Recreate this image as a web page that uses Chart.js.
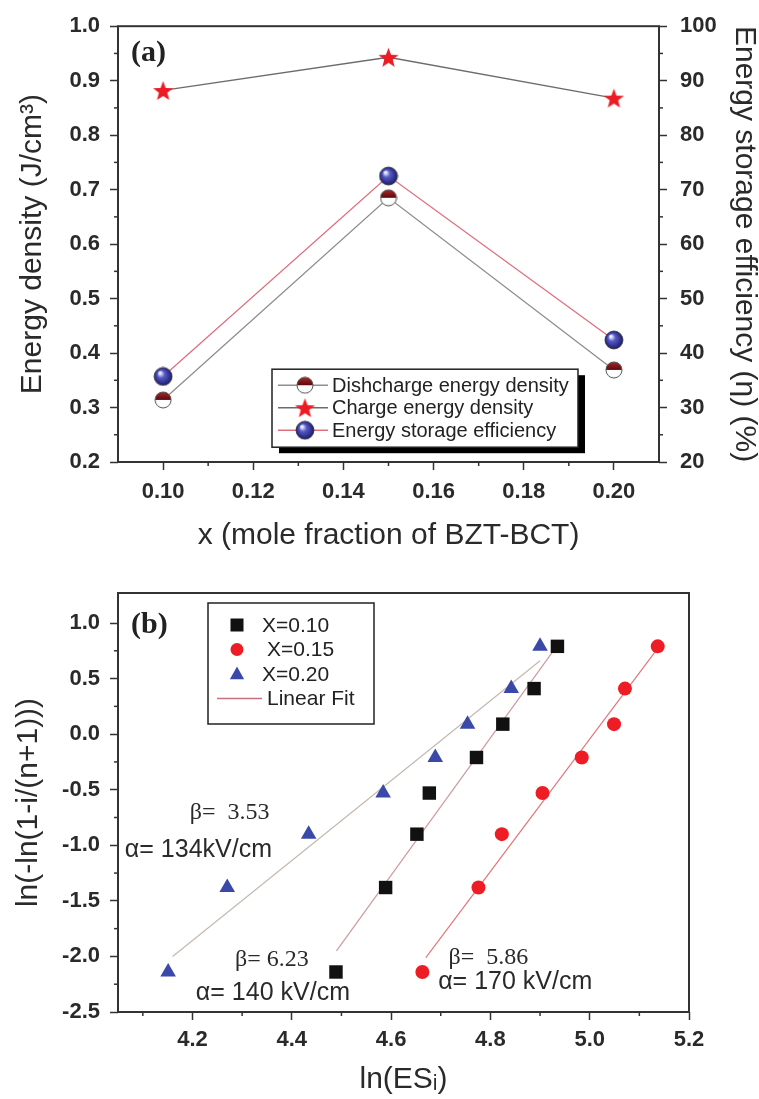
<!DOCTYPE html>
<html>
<head>
<meta charset="utf-8">
<script src="https://cdn.jsdelivr.net/npm/chart.js@4.4.1/dist/chart.umd.min.js"></script>
<style>
  html, body { margin: 0; padding: 0; background: #fff; }
  #wrap { position: relative; width: 759px; height: 1099px; }
  canvas { position: absolute; left: 0; }
  #chartA { top: 0; }
  #chartB { top: 560px; }
</style>
</head>
<body>
<div id="wrap">
  <canvas id="chartA" width="759" height="560"></canvas>
  <canvas id="chartB" width="759" height="539"></canvas>
</div>
<script>
// ---- (a) energy storage vs. composition ----
const moleFraction = [0.10, 0.15, 0.20];
const dischargeDensity = [0.314, 0.685, 0.369];
const chargeDensity = [0.882, 0.943, 0.868];
const storageEfficiency = [35.7, 72.5, 42.4];
const seriesLabelsA = ['Dishcharge energy density', 'Charge energy density', 'Energy storage efficiency'];
const xTicksA = [0.10, 0.12, 0.14, 0.16, 0.18, 0.20];
const xMinorA = [0.11, 0.13, 0.15, 0.17, 0.19];
const yTicksA = [0.2, 0.3, 0.4, 0.5, 0.6, 0.7, 0.8, 0.9, 1.0];
const yMinorA = [0.25, 0.35, 0.45, 0.55, 0.65, 0.75, 0.85, 0.95];
const effTicks = [20, 30, 40, 50, 60, 70, 80, 90, 100];
const effMinor = [25, 35, 45, 55, 65, 75, 85, 95];

// ---- (b) Weibull plot ----
const weibullY = [-2.14, -1.38, -0.90, -0.53, -0.21, 0.09, 0.41, 0.79];
const lnES010 = [4.489, 4.589, 4.652, 4.677, 4.772, 4.825, 4.888, 4.935];
const lnES015 = [4.663, 4.776, 4.823, 4.905, 4.984, 5.049, 5.071, 5.137];
const lnES020 = [4.151, 4.270, 4.434, 4.584, 4.689, 4.754, 4.842, 4.900];
const seriesLabelsB = ['X=0.10', 'X=0.15', 'X=0.20'];
const fit010X = [4.49, 4.93], fit010Y = [-1.95, 0.77];
const fit015X = [4.67, 5.14], fit015Y = [-2.01, 0.79];
const fit020X = [4.16, 4.90], fit020Y = [-2.00, 0.66];
const xTicksB = [4.2, 4.4, 4.6, 4.8, 5.0, 5.2];
const xMinorB = [4.1, 4.3, 4.5, 4.7, 4.9, 5.1];
const yTicksB = [-2.5, -2.0, -1.5, -1.0, -0.5, 0.0, 0.5, 1.0];
const yMinorB = [-2.25, -1.75, -1.25, -0.75, -0.25, 0.25, 0.75];
const notesB = [
  { text: 'β=  3.53', x: 4.275, y: -0.71, serif: true },
  { text: 'α= 134kV/cm', x: 4.212, y: -1.04 },
  { text: 'β= 6.23', x: 4.36, y: -2.03, serif: true },
  { text: 'α= 140 kV/cm', x: 4.362, y: -2.33 },
  { text: 'β=  5.86', x: 4.796, y: -2.01, serif: true },
  { text: 'α= 170 kV/cm', x: 4.85, y: -2.23 }
];

const SANS = "'Liberation Sans', Arial, sans-serif";
const SERIF = "'Liberation Serif', 'Times New Roman', serif";
const INK = '#2a2a2a';
Chart.defaults.font.family = SANS;
Chart.defaults.color = INK;

const pts = (xs, ys) => xs.map((x, i) => ({ x: x, y: ys[i] }));

// marker images
function makeStar(r, color) {
  const c = document.createElement('canvas');
  const s = Math.ceil(r * 2 + 2);
  c.width = c.height = s;
  const g = c.getContext('2d');
  g.beginPath();
  for (let i = 0; i < 10; i++) {
    const rad = i % 2 === 0 ? r : r * 0.42;
    const a = -Math.PI / 2 + i * Math.PI / 5;
    const px = s / 2 + rad * Math.cos(a), py = s / 2 + 1 + rad * Math.sin(a);
    if (i === 0) g.moveTo(px, py); else g.lineTo(px, py);
  }
  g.closePath();
  g.fillStyle = color;
  g.fill();
  return c;
}
function makeSphere(r) {
  const c = document.createElement('canvas');
  const s = Math.ceil(r * 2 + 2);
  c.width = c.height = s;
  const g = c.getContext('2d');
  const m = s / 2;
  const grd = g.createRadialGradient(m - r * 0.35, m - r * 0.4, r * 0.1, m, m, r);
  grd.addColorStop(0, '#eef0ff');
  grd.addColorStop(0.35, '#5659c8');
  grd.addColorStop(1, '#1b1c6a');
  g.beginPath(); g.arc(m, m, r, 0, Math.PI * 2);
  g.fillStyle = grd; g.fill();
  g.lineWidth = 0.8; g.strokeStyle = '#333'; g.stroke();
  return c;
}
function makeHalf(r) {
  const c = document.createElement('canvas');
  const s = Math.ceil(r * 2 + 2);
  c.width = c.height = s;
  const g = c.getContext('2d');
  const m = s / 2;
  g.beginPath(); g.arc(m, m, r, 0, Math.PI * 2);
  g.fillStyle = '#fff'; g.fill();
  const grd = g.createLinearGradient(0, m - r, 0, m);
  grd.addColorStop(0, '#a8282a');
  grd.addColorStop(1, '#5a0a0e');
  g.beginPath(); g.arc(m, m, r, Math.PI, Math.PI * 2); g.closePath();
  g.fillStyle = grd; g.fill();
  g.beginPath(); g.arc(m, m, r, 0, Math.PI * 2);
  g.lineWidth = 1; g.strokeStyle = '#555'; g.stroke();
  return c;
}
const starImg = makeStar(10.5, '#ec1c24');
const sphereImg = makeSphere(9);
const halfImg = makeHalf(8);

// plugins
const frame = {
  id: 'frame',
  beforeDatasetsDraw(chart) {
    const { ctx, chartArea: a } = chart;
    ctx.save();
    ctx.strokeStyle = '#333';
    ctx.lineWidth = 2;
    ctx.strokeRect(a.left, a.top, a.right - a.left, a.bottom - a.top);
    ctx.restore();
  }
};
const minorTicks = {
  id: 'minorTicks',
  afterDraw(chart, args, opts) {
    const ctx = chart.ctx;
    ctx.save();
    ctx.strokeStyle = '#333';
    ctx.lineWidth = 1.5;
    (opts.list || []).forEach(m => {
      const s = chart.scales[m.axis];
      m.values.forEach(v => {
        const p = s.getPixelForValue(v);
        ctx.beginPath();
        if (s.isHorizontal()) { ctx.moveTo(p, s.top); ctx.lineTo(p, s.top + 4); }
        else if (s.position === 'left') { ctx.moveTo(s.right, p); ctx.lineTo(s.right - 4, p); }
        else { ctx.moveTo(s.left, p); ctx.lineTo(s.left + 4, p); }
        ctx.stroke();
      });
    });
    ctx.restore();
  }
};
const panelTag = {
  id: 'panelTag',
  afterDraw(chart, args, opts) {
    const { ctx, chartArea: a } = chart;
    ctx.save();
    ctx.font = 'bold 30px ' + SERIF;
    ctx.fillStyle = '#222';
    ctx.textBaseline = 'middle';
    ctx.fillText(opts.text, a.left + opts.dx, a.top + opts.dy);
    ctx.restore();
  }
};

function tickAxis(extra) {
  return Object.assign({
    type: 'linear',
    border: { display: false },
    grid: { drawOnChartArea: false, drawTicks: true, tickLength: 8, tickColor: '#333', tickWidth: 1.5 }
  }, extra);
}
const tickFont = { size: 22, weight: 'bold', family: SANS };
const titleFont = { size: 30, family: SANS, lineHeight: 1 };

// ---------- chart (a) ----------
const legendA = {
  id: 'legendA',
  afterDraw(chart) {
    const { ctx, chartArea: a } = chart;
    const x0 = a.left + 154, y0 = a.top + 343, w = 306, h = 78;
    ctx.save();
    ctx.fillStyle = '#000';
    ctx.fillRect(x0 + 7, y0 + 6, w, h);
    ctx.fillStyle = '#fff';
    ctx.fillRect(x0, y0, w, h);
    ctx.strokeStyle = '#222';
    ctx.lineWidth = 1.5;
    ctx.strokeRect(x0, y0, w, h);
    ctx.font = '20px ' + SANS;
    ctx.textBaseline = 'middle';
    chart.data.datasets.forEach((ds, i) => {
      const cy = y0 + 16 + i * 22.5;
      ctx.strokeStyle = ds.borderColor;
      ctx.lineWidth = 1.5;
      ctx.beginPath(); ctx.moveTo(x0 + 6, cy); ctx.lineTo(x0 + 56, cy); ctx.stroke();
      const img = ds.pointStyle;
      ctx.drawImage(img, x0 + 33 - img.width / 2, cy - img.height / 2);
      ctx.fillStyle = '#222';
      ctx.fillText(ds.label, x0 + 60, cy + 1);
    });
    ctx.restore();
  }
};

new Chart(document.getElementById('chartA'), {
  type: 'scatter',
  data: {
    datasets: [
      { label: seriesLabelsA[0], data: pts(moleFraction, dischargeDensity), yAxisID: 'y',
        showLine: true, borderColor: '#8e8e8e', borderWidth: 1.3, pointStyle: halfImg },
      { label: seriesLabelsA[1], data: pts(moleFraction, chargeDensity), yAxisID: 'y',
        showLine: true, borderColor: '#6c6c6c', borderWidth: 1.3, pointStyle: starImg },
      { label: seriesLabelsA[2], data: pts(moleFraction, storageEfficiency), yAxisID: 'y2',
        showLine: true, borderColor: '#e07080', borderWidth: 1.3, pointStyle: sphereImg }
    ]
  },
  options: {
    responsive: false,
    animation: false,
    layout: { padding: { top: 24, left: 0, right: 0, bottom: 0 } },
    plugins: {
      legend: { display: false },
      tooltip: { enabled: false },
      minorTicks: { list: [
        { axis: 'x', values: xMinorA },
        { axis: 'y', values: yMinorA },
        { axis: 'y2', values: effMinor }
      ] },
      panelTag: { text: '(a)', dx: 13, dy: 27 }
    },
    scales: {
      x: tickAxis({
        position: 'bottom', min: 0.09, max: 0.21,
        afterBuildTicks: s => { s.ticks = xTicksA.map(v => ({ value: v })); },
        afterFit: s => { s.height = 98; },
        ticks: { font: tickFont, color: INK, padding: 9, maxRotation: 0, autoSkip: false,
                 callback: v => v.toFixed(2) },
        title: { display: true, text: 'x (mole fraction of BZT-BCT)', font: titleFont, color: INK,
                 padding: { top: 0, bottom: 9 } }
      }),
      y: tickAxis({
        position: 'left', min: 0.2, max: 1.0,
        afterBuildTicks: s => { s.ticks = yTicksA.map(v => ({ value: v })); },
        afterFit: s => { s.width = 118; },
        ticks: { font: tickFont, color: INK, padding: 10, autoSkip: false, callback: v => v.toFixed(1) },
        title: { display: true, text: 'Energy density (J/cm³)', font: titleFont, color: INK,
                 padding: { top: 18, bottom: 0 } }
      }),
      y2: tickAxis({
        position: 'right', min: 20, max: 100,
        afterBuildTicks: s => { s.ticks = effTicks.map(v => ({ value: v })); },
        afterFit: s => { s.width = 100; },
        ticks: { font: tickFont, color: INK, padding: 13, autoSkip: false, callback: v => String(v) },
        title: { display: true, text: 'Energy storage efficiency (η) (%)', font: titleFont, color: INK,
                 padding: { top: 0, bottom: 0 } }
      })
    }
  },
  plugins: [frame, minorTicks, panelTag, legendA]
});

// ---------- chart (b) ----------
const markerB = [
  { style: 'rect', color: '#111111', radius: 9.5 },
  { style: 'circle', color: '#ee1c24', radius: 7 },
  { style: 'triangle', color: '#3a48aa', radius: 9 }
];
const fitColors = ['#cf9a9e', '#e3777d', '#c4b9ae'];

function drawMarker(ctx, kind, x, y, size) {
  ctx.fillStyle = kind.color;
  ctx.beginPath();
  if (kind.style === 'rect') {
    ctx.rect(x - size / 2, y - size / 2, size, size);
  } else if (kind.style === 'circle') {
    ctx.arc(x, y, size / 2, 0, Math.PI * 2);
  } else {
    ctx.moveTo(x, y - size * 0.58);
    ctx.lineTo(x + size * 0.55, y + size * 0.4);
    ctx.lineTo(x - size * 0.55, y + size * 0.4);
    ctx.closePath();
  }
  ctx.fill();
}

const legendB = {
  id: 'legendB',
  afterDraw(chart) {
    const { ctx, chartArea: a } = chart;
    const x0 = a.left + 90, y0 = a.top + 10, w = 166, h = 121;
    ctx.save();
    ctx.fillStyle = '#fff';
    ctx.fillRect(x0, y0, w, h);
    ctx.strokeStyle = '#222';
    ctx.lineWidth = 1.5;
    ctx.strokeRect(x0, y0, w, h);
    ctx.font = '21px ' + SANS;
    ctx.textBaseline = 'middle';
    seriesLabelsB.forEach((lab, i) => {
      const cy = y0 + 22 + i * 24.5;
      drawMarker(ctx, markerB[i], x0 + 29, cy, 13);
      ctx.fillStyle = '#222';
      ctx.fillText(lab, x0 + 54 + (i === 1 ? 5 : 0), cy + 1);
    });
    const cy = y0 + 95.5;
    ctx.strokeStyle = '#c87080';
    ctx.lineWidth = 1.5;
    ctx.beginPath(); ctx.moveTo(x0 + 9, cy); ctx.lineTo(x0 + 54, cy); ctx.stroke();
    ctx.fillStyle = '#222';
    ctx.fillText('Linear Fit', x0 + 59, cy + 1);
    ctx.restore();
  }
};
const notes = {
  id: 'notes',
  afterDatasetsDraw(chart) {
    const { ctx, scales: { x, y } } = chart;
    ctx.save();
    ctx.fillStyle = '#2a2a2a';
    ctx.textAlign = 'center';
    ctx.textBaseline = 'middle';
    notesB.forEach(n => {
      ctx.font = n.serif ? '24px ' + SERIF : '25px ' + SANS;
      ctx.fillText(n.text, x.getPixelForValue(n.x), y.getPixelForValue(n.y));
    });
    ctx.restore();
  }
};

const scatterSet = (i, xs) => ({
  label: seriesLabelsB[i], data: pts(xs, weibullY), showLine: false,
  pointStyle: markerB[i].style, pointRadius: markerB[i].radius,
  backgroundColor: markerB[i].color, borderColor: markerB[i].color, borderWidth: 0
});
const fitSet = (xs, ys, c) => ({
  label: 'Linear Fit', data: pts(xs, ys), showLine: true, pointRadius: 0,
  borderColor: c, borderWidth: 1.2
});

new Chart(document.getElementById('chartB'), {
  type: 'scatter',
  data: {
    datasets: [
      scatterSet(0, lnES010),
      scatterSet(1, lnES015),
      scatterSet(2, lnES020),
      fitSet(fit010X, fit010Y, fitColors[0]),
      fitSet(fit015X, fit015Y, fitColors[1]),
      fitSet(fit020X, fit020Y, fitColors[2])
    ]
  },
  options: {
    responsive: false,
    animation: false,
    layout: { padding: { top: 33, left: 0, right: 70, bottom: 0 } },
    plugins: {
      legend: { display: false },
      tooltip: { enabled: false },
      minorTicks: { list: [
        { axis: 'x', values: xMinorB },
        { axis: 'y', values: yMinorB }
      ] },
      panelTag: { text: '(b)', dx: 13, dy: 32 }
    },
    scales: {
      x: tickAxis({
        position: 'bottom', min: 4.05, max: 5.2,
        afterBuildTicks: s => { s.ticks = xTicksB.map(v => ({ value: v })); },
        afterFit: s => { s.height = 87; },
        ticks: { font: tickFont, color: INK, padding: 7, maxRotation: 0, autoSkip: false,
                 callback: v => v.toFixed(1) },
        title: { display: true, text: 'ln(ESᵢ)', font: titleFont, color: INK,
                 padding: { top: 0, bottom: 4 } }
      }),
      y: tickAxis({
        position: 'left', min: -2.5, max: 1.27,
        afterBuildTicks: s => { s.ticks = yTicksB.map(v => ({ value: v })); },
        afterFit: s => { s.width = 118; },
        ticks: { font: tickFont, color: INK, padding: 10, autoSkip: false, callback: v => v.toFixed(1) },
        title: { display: true, text: 'ln(-ln(1-i/(n+1)))', font: titleFont, color: INK,
                 padding: { top: 14, bottom: 0 } }
      })
    }
  },
  plugins: [frame, minorTicks, panelTag, notes, legendB]
});
</script>
</body>
</html>
